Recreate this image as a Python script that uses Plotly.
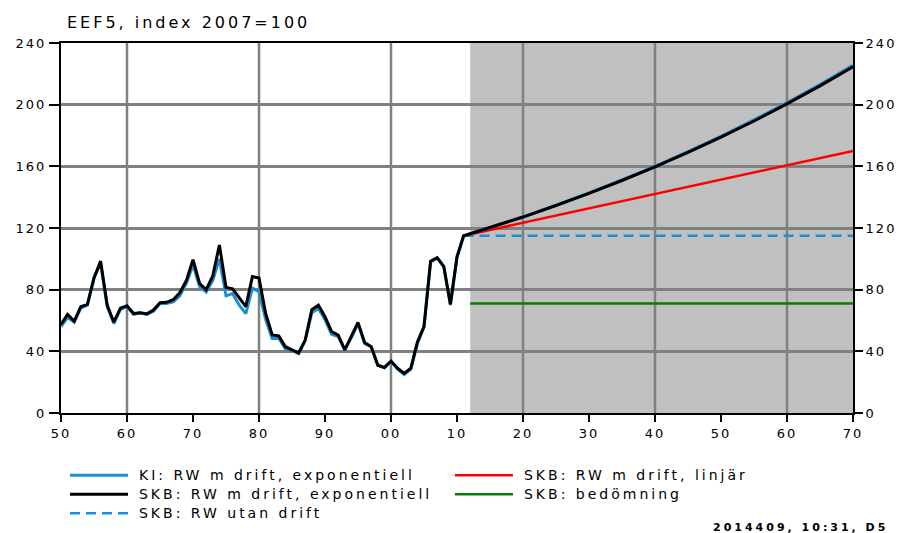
import plotly.graph_objects as go

# ---------------- data ----------------
hist_years = list(range(1950, 2012))
ki_hist = [56, 62, 59, 68, 70, 88, 97, 69, 58, 67,
           69, 64, 65, 64, 66, 71, 71, 72, 76, 84,
           96, 82, 78.5, 86, 100, 76, 77.5, 70, 64.5, 81,
           78.7, 60.8, 48.4, 48.5, 41.5, 40.5, 38.7, 47, 65, 68,
           60.5, 51, 49.5, 41, 49, 58, 45, 43, 31, 29.4,
           33.5, 28.5, 25, 28.5, 45, 56, 98, 100.5, 95, 70,
           101, 114.5]
skb_hist = [57.5, 64, 59.5, 69, 70.5, 87.5, 98.5, 70, 59, 68,
            69.6, 64.5, 65, 64.3, 66.8, 71.5, 71.8, 73.5, 78, 86,
            99.5, 84, 80, 89, 109, 81.5, 80.5, 74.4, 69, 88.5,
            87.5, 64.7, 50.6, 50, 43, 41, 38.8, 47.3, 67, 70,
            62.5, 52.8, 50.5, 41, 49.5, 58.8, 45.8, 43, 31, 29.5,
            33.7, 29, 25.7, 29, 46, 56, 98.5, 100.8, 95, 70.5,
            101.4, 115]

fc_years = [2012, 2015, 2020, 2025, 2030, 2035, 2040, 2045, 2050, 2055, 2060, 2065, 2070]
ki_exp_fc = [116.3, 120.4, 127.2, 134.8, 142.7, 151.2, 160.0, 169.5, 179.5, 190.1, 201.2, 213.0, 225.6]
skb_exp_fc = [116.3, 120.3, 127.1, 134.6, 142.4, 150.8, 159.6, 169.0, 178.9, 189.4, 200.5, 212.2, 224.6]

lin_years = [2011, 2020, 2030, 2040, 2050, 2060, 2070]
skb_lin = [115, 123.4, 132.7, 142.0, 151.4, 160.7, 170]

nodrift_years = [2011, 2070]
skb_nodrift = [115, 115]

bed_years = [2012, 2070]
skb_bed = [71, 71]

forecast_span = [2012, 2070]

x_ticks = list(range(1950, 2071, 10))
x_ticklabels = ["50", "60", "70", "80", "90", "00", "10", "20", "30", "40", "50", "60", "70"]
x_grid = [1960, 1980, 2000, 2020, 2040, 2060]
y_ticks = [0, 40, 80, 120, 160, 200, 240]

names = {
    "ki": "KI: RW m drift, exponentiell",
    "lin": "SKB: RW m drift, linjär",
    "skb": "SKB: RW m drift, exponentiell",
    "bed": "SKB: bedömning",
    "nod": "SKB: RW utan drift",
}

BLUE = "#1a8fd3"
FONT = "DejaVu Sans"

fig = go.Figure()

fig.add_trace(go.Scatter(x=nodrift_years, y=skb_nodrift, mode="lines", name=names["nod"],
                         line=dict(color=BLUE, width=2.5, dash="10px,6px"), legendrank=5))
fig.add_trace(go.Scatter(x=lin_years, y=skb_lin, mode="lines", name=names["lin"],
                         line=dict(color="#ff0000", width=2.5), legendrank=2))
fig.add_trace(go.Scatter(x=hist_years + fc_years, y=ki_hist + ki_exp_fc, mode="lines", name=names["ki"],
                         line=dict(color=BLUE, width=3), legendrank=1))
fig.add_trace(go.Scatter(x=hist_years + fc_years, y=skb_hist + skb_exp_fc, mode="lines", name=names["skb"],
                         line=dict(color="#000000", width=3), legendrank=3))
fig.add_trace(go.Scatter(x=bed_years, y=skb_bed, mode="lines", name=names["bed"], yaxis="y2",
                         line=dict(color="#008000", width=2.5), legendrank=4))

shapes = [dict(type="rect", xref="x", yref="paper", x0=forecast_span[0], x1=forecast_span[1],
               y0=0, y1=1, fillcolor="#c0c0c0", line=dict(width=0), layer="below")]
for gx in x_grid:
    shapes.append(dict(type="line", xref="x", yref="paper", x0=gx, x1=gx, y0=0, y1=1,
                       line=dict(color="#808080", width=2.5), layer="below"))

axis_font = dict(family=FONT, size=13, color="#000000")

fig.update_layout(
    width=904, height=533,
    margin=dict(l=61, r=51, t=43, b=120, pad=0, autoexpand=False),
    paper_bgcolor="white", plot_bgcolor="white",
    hovermode=False,
    shapes=shapes,
    title=dict(text="EEF5, index 2007=100", x=67 / 904, xanchor="left", xref="container",
               y=1 - 22 / 533, yanchor="middle",
               font=dict(family=FONT, size=16, color="#000000")),
    xaxis=dict(range=[1950, 2070], tickmode="array", tickvals=x_ticks, ticktext=x_ticklabels,
               showgrid=False, zeroline=False, showline=True, linecolor="#000000", linewidth=2,
               mirror=True, ticks="outside", ticklen=7, tickwidth=1.5, tickcolor="#000000",
               tickfont=axis_font),
    yaxis=dict(range=[0, 240], tickmode="array", tickvals=y_ticks,
               showgrid=True, gridcolor="#808080", gridwidth=2.5, zeroline=False,
               showline=True, linecolor="#000000", linewidth=2, mirror=True,
               ticks="outside", ticklen=10, tickwidth=1.5, tickcolor="#000000",
               tickfont=axis_font),
    yaxis2=dict(range=[0, 240], tickmode="array", tickvals=y_ticks, overlaying="y", side="right",
                showgrid=False, zeroline=False, showline=True, linecolor="#000000", linewidth=2,
                ticks="outside", ticklen=8, tickwidth=1.5, tickcolor="#000000",
                tickfont=axis_font),
    legend=dict(orientation="h", x=0.005, y=-0.129, xanchor="left", yanchor="top",
                entrywidth=312, entrywidthmode="pixels", itemwidth=58,
                font=dict(family=FONT, size=12, color="#000000"),
                bgcolor="rgba(0,0,0,0)", tracegroupgap=0),
    annotations=[dict(text="2014409, 10:31, D5", xref="paper", yref="paper",
                      x=(800 - 61) / 792, y=(413 - 527) / 370, xanchor="center", yanchor="middle",
                      showarrow=False, font=dict(family=FONT, size=11, color="#000000", weight="bold"))],
)

post = """
document.body.style.margin = '0';
var gd = document.getElementById('{plot_id}');
function ls(){
  gd.querySelectorAll('.legendtext').forEach(function(e){
    e.style.letterSpacing='3px'; e.style.fontSize='14px'; e.style.transform='translateX(6px)';
  });
  gd.querySelectorAll('.gtitle').forEach(function(e){e.style.letterSpacing='3px';});
  gd.querySelectorAll('.xtick text, .ytick text, .y2tick text').forEach(function(e){e.style.letterSpacing='2px';});
  gd.querySelectorAll('.annotation-text').forEach(function(e){e.style.letterSpacing='3px';});
}
ls();
gd.on('plotly_afterplot', ls);
"""

fig.write_html("out.html", post_script=post, config={"displayModeBar": False})
